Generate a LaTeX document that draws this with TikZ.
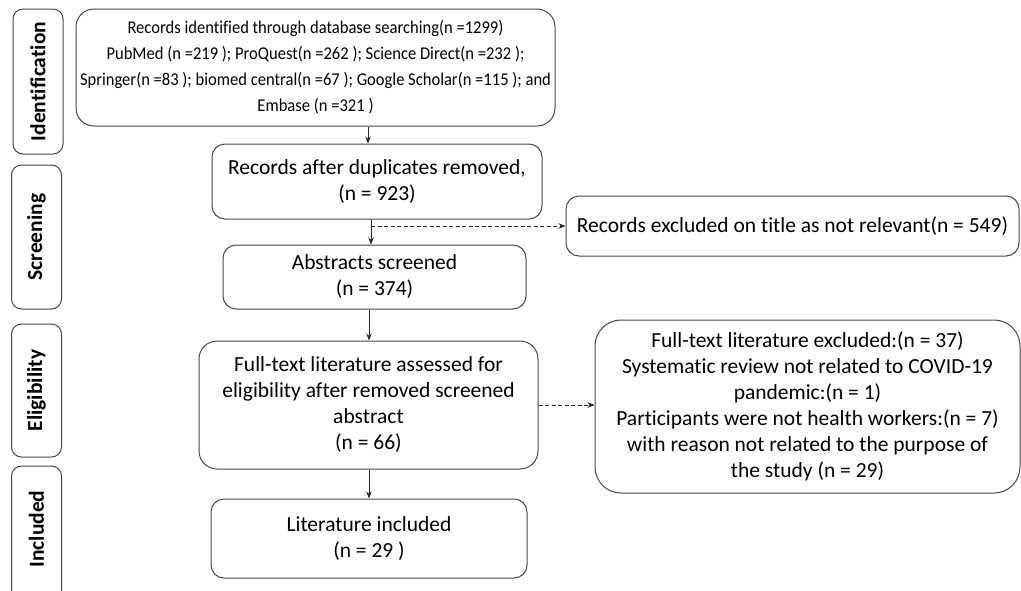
\documentclass[tikz,border=0pt]{standalone}
\usepackage{fontspec}
\setmainfont{Carlito}[Ligatures=NoCommon]
\newfontfamily\topfont{Carlito}[Ligatures=NoCommon, FakeStretch=0.92]
\usetikzlibrary{arrows.meta,calc}
\begin{document}
\begin{tikzpicture}[x=1pt,y=-1pt,
  box/.style={draw=black!72, line width=1pt, rounded corners=13pt, align=center, inner sep=2pt,
    font=\fontsize{21.5}{26}\selectfont},
  smallbox/.style={box, font=\topfont\fontsize{18}{26}\selectfont},
  phase/.style={draw=black!72, line width=1pt, rounded corners=10pt, rotate=90, inner sep=0pt,
    font=\fontsize{21.5}{25}\selectfont\bfseries},
  arr/.style={-{Stealth[length=7pt,width=5.5pt]}, line width=0.8pt, black!85},
  darr/.style={arr, dash pattern=on 4pt off 2.5pt}]
\useasboundingbox (0,0) rectangle (1021,590);

% phase boxes
\node[phase, minimum width=145pt, minimum height=50pt] (pid) at (38,81.5) {Identification};
\node[phase, minimum width=144pt, minimum height=50pt] (psc) at (36.5,237) {Screening};
\node[phase, minimum width=133pt, minimum height=50pt] (pel) at (36.5,390.5) {Eligibility};
\node[phase, minimum width=140pt, minimum height=50pt] (pin) at (36.5,536) {};
\node[rotate=90, inner sep=0pt, font=\fontsize{21.5}{25}\selectfont\bfseries] (pintxt) at (36.5,529) {Included};

% main boxes
\node[smallbox, rounded corners=18pt, minimum width=479pt, minimum height=117pt] (rec) at (315.5,67.5)
 {Records identified through database searching(n =1299)\\
  PubMed (n =219 ); ProQuest(n =262 ); Science Direct(n =232 );\\
  Springer(n =83 ); biomed central(n =67 ); Google Scholar(n =115 ); and\\
  Embase (n =321 )};
\node[box, minimum width=330pt, minimum height=75pt] (dup) at (377,181.5)
 {Records after duplicates removed,\\(n = 923)};
\node[box, minimum width=303pt, minimum height=64pt] (abs) at (374.5,277)
 {Abstracts screened\\(n = 374)};
\node[box, rounded corners=18pt, minimum width=339pt, minimum height=128pt] (full) at (368.5,405)
 {Full-text literature assessed for\\eligibility after removed screened\\abstract\\(n = 66)};
\node[box, minimum width=316pt, minimum height=79pt] (inc) at (369,538.5)
 {Literature included\\(n = 29 )};

% exclusion boxes
\node[box, minimum width=453pt, minimum height=60pt] (ex1) at (792.5,226)
 {Records excluded on title as not relevant(n = 549)};
\node[box, rounded corners=26pt, minimum width=425pt, minimum height=173pt] (ex2) at (807.5,406.5)
 {Full-text literature excluded:(n = 37)\\
  Systematic review not related to COVID-19\\
  pandemic:(n = 1)\\
  Participants were not health workers:(n = 7)\\
  with reason not related to the purpose of\\
  the study (n = 29)};

% connectors
\coordinate (c1) at (368,0);
\coordinate (c2) at (371,0);
\coordinate (c3) at (369,0);
\draw[arr] (c1 |- rec.south) -- (c1 |- dup.north);
\draw[arr] (c2 |- dup.south) -- (c2 |- abs.north);
\draw[darr] (c2 |- ex1.west) -- (ex1.west);
\draw[arr] (c3 |- abs.south) -- (c3 |- full.north);
\draw[darr] (full.east) -- (full.east -| ex2.west);
\draw[arr] (c3 |- full.south) -- (c3 |- inc.north);
\end{tikzpicture}
\end{document}
